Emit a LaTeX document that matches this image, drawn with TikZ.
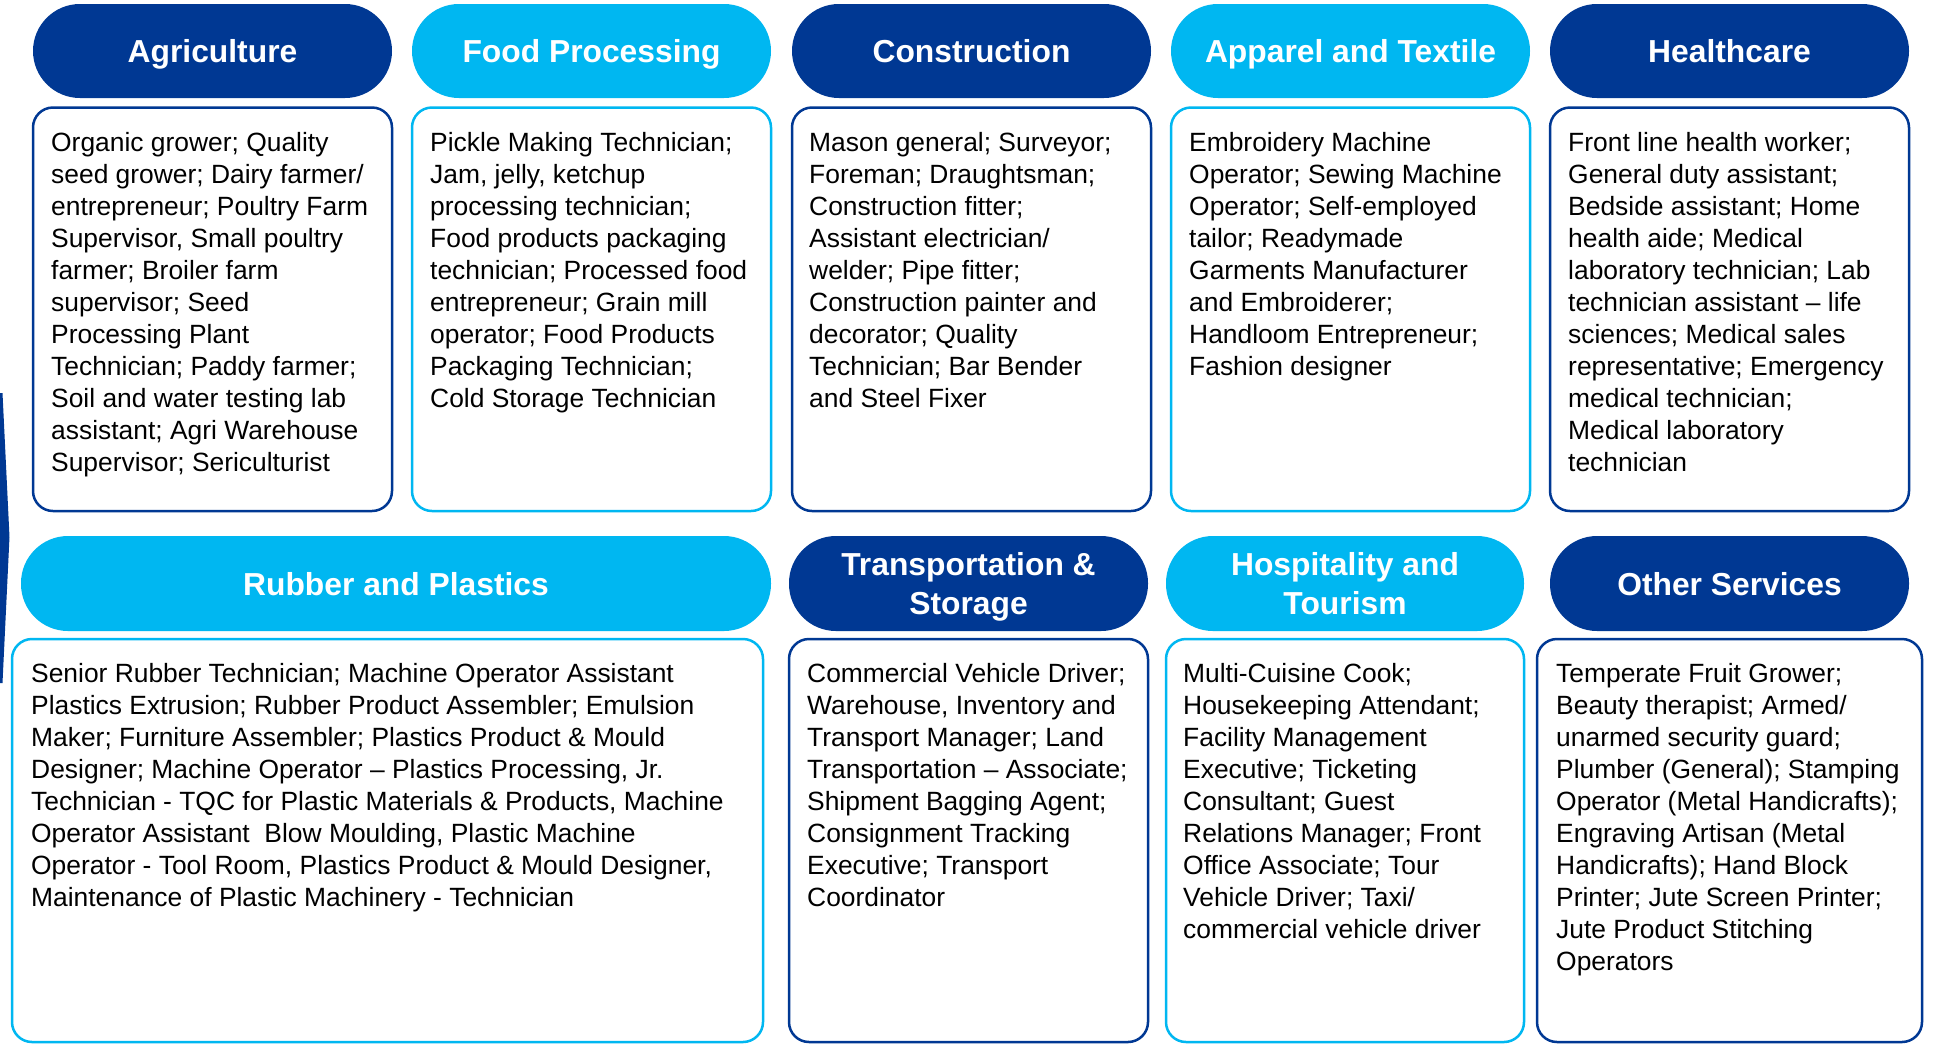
\documentclass[tikz,border=0pt]{standalone}
\usepackage{fontspec}
\setmainfont{Liberation Sans}
\usetikzlibrary{calc}
\definecolor{dk}{RGB}{0,56,147}
\definecolor{lt}{RGB}{0,183,241}
\pgfdeclarelayer{bg}
\pgfsetlayers{bg,main}
\newcommand{\nodepth}[1]{\raisebox{0pt}[\height][0pt]{#1}}
\tikzset{
  hdr/.style={rectangle, rounded corners=47pt, fill=#1, text=white,
    font=\fontsize{31.8}{39.3}\selectfont\bfseries, align=center,
    inner sep=0pt, outer sep=0pt, minimum height=94pt},
  one/.style={text height=23pt, text depth=0pt},
  card/.style={rectangle, rounded corners=20pt, draw=#1, line width=2.5pt,
    fill=white, inner sep=0pt, outer sep=0pt},
  body/.style={anchor=north west, align=left, inner sep=0pt,
    font=\fontsize{26.4}{32}\selectfont, text=black},
}
\begin{document}
\begin{tikzpicture}[x=1pt,y=-1pt]
\useasboundingbox[fill=white] (0,0) rectangle (1934,1045);

% left edge sliver
\fill[dk] (0,393) -- (2.5,393) -- (9.5,537) -- (2.5,683) -- (0,683) -- cycle;

% ---------- Row 1 ----------
\node[hdr=dk, one, minimum width=359pt] (hA) at (212.5,51) {Agriculture};
\node[hdr=lt, one, minimum width=359pt] (hB) at (591.5,51) {Food Processing};
\node[hdr=dk, one, minimum width=359pt] (hC) at (971.5,51) {Construction};
\node[hdr=lt, one, minimum width=359pt] (hD) at (1350.5,51) {Apparel and Textile};
\node[hdr=dk, one, minimum width=359pt] (hE) at (1729.5,51) {Healthcare};

\node[card=dk, minimum width=359pt, minimum height=403.5pt] (bA) at (212.5,309.25) {};
\node[card=lt, minimum width=359pt, minimum height=403.5pt] (bB) at (591.5,309.25) {};
\node[card=dk, minimum width=359pt, minimum height=403.5pt] (bC) at (971.5,309.25) {};
\node[card=lt, minimum width=359pt, minimum height=403.5pt] (bD) at (1350.5,309.25) {};
\node[card=dk, minimum width=359pt, minimum height=403.5pt] (bE) at (1729.5,309.25) {};

% ---------- Row 2 ----------
\node[hdr=lt, one, minimum width=750pt, minimum height=95pt] (hF) at (396,583.5) {Rubber and Plastics};
\node[hdr=dk, minimum width=359pt, minimum height=95pt] (hG) at (968.5,583.5) {Transportation \&\\\nodepth{Storage}};
\node[hdr=lt, minimum width=358pt, minimum height=95pt] (hH) at (1345,583.5) {Hospitality and\\\nodepth{Tourism}};
\node[hdr=dk, one, minimum width=359pt, minimum height=95pt] (hI) at (1729.5,583.5) {Other Services};

\node[card=lt, minimum width=751pt, minimum height=403pt] (bF) at (387.5,840.5) {};
\node[card=dk, minimum width=359pt, minimum height=403pt] (bG) at (968.5,840.5) {};
\node[card=lt, minimum width=358pt, minimum height=403pt] (bH) at (1345,840.5) {};
\node[card=dk, minimum width=385pt, minimum height=403pt] (bI) at (1729.5,840.5) {};

% ---------- Tabs (connectors) ----------
\begin{pgfonlayer}{bg}
\foreach \h/\b/\c/\l/\r in {hA/bA/dk/16/6, hB/bB/lt/16/6, hC/bC/dk/16/6, hD/bD/lt/16/6, hE/bE/dk/16/6,
                            hF/bF/lt/3/0, hG/bG/dk/3/0, hH/bH/lt/3/0, hI/bI/dk/3/0} {
  \fill[\c] ($(\b.north |- \h.center)+(-63.5,0)$) rectangle ($(\b.north)+(63.5,6)$);
  \fill[\c, rounded corners=\r pt] ($(\b.south)+(-63.5,-10)$) rectangle ($(\b.south)+(63.5,\l)$);
}
\end{pgfonlayer}

% ---------- Texts ----------
\node[body] (tA) at ($(bA.north west)+(18,24.3)$) {Organic grower; Quality\\seed grower; Dairy farmer/\\entrepreneur; Poultry Farm\\Supervisor, Small poultry\\farmer; Broiler farm\\supervisor; Seed\\Processing Plant\\Technician; Paddy farmer;\\Soil and water testing lab\\assistant; Agri Warehouse\\Supervisor; Sericulturist};
\node[body] (tB) at ($(bB.north west)+(18,24.3)$) {Pickle Making Technician;\\Jam, jelly, ketchup\\processing technician;\\Food products packaging\\technician; Processed food\\entrepreneur; Grain mill\\operator; Food Products\\Packaging Technician;\\Cold Storage Technician};
\node[body] (tC) at ($(bC.north west)+(17,24.3)$) {Mason general; Surveyor;\\Foreman; Draughtsman;\\Construction fitter;\\Assistant electrician/\\welder; Pipe fitter;\\Construction painter and\\decorator; Quality\\Technician; Bar Bender\\and Steel Fixer};
\node[body] (tD) at ($(bD.north west)+(18,24.3)$) {Embroidery Machine\\Operator; Sewing Machine\\Operator; Self-employed\\tailor; Readymade\\Garments Manufacturer\\and Embroiderer;\\Handloom Entrepreneur;\\Fashion designer};
\node[body] (tE) at ($(bE.north west)+(18,24.3)$) {Front line health worker;\\General duty assistant;\\Bedside assistant; Home\\health aide; Medical\\laboratory technician; Lab\\technician assistant – life\\sciences; Medical sales\\representative; Emergency\\medical technician;\\Medical laboratory\\technician};

\node[body] (tF) at ($(bF.north west)+(19,24.3)$) {Senior Rubber Technician; Machine Operator Assistant\\Plastics Extrusion; Rubber Product Assembler; Emulsion\\Maker; Furniture Assembler; Plastics Product \& Mould\\Designer; Machine Operator – Plastics Processing, Jr.\\Technician - TQC for Plastic Materials \& Products, Machine\\Operator Assistant\ \ Blow Moulding, Plastic Machine\\Operator - Tool Room, Plastics Product \& Mould Designer,\\Maintenance of Plastic Machinery - Technician};
\node[body] (tG) at ($(bG.north west)+(18,24.3)$) {Commercial Vehicle Driver;\\Warehouse, Inventory and\\Transport Manager; Land\\Transportation – Associate;\\Shipment Bagging Agent;\\Consignment Tracking\\Executive; Transport\\Coordinator};
\node[body] (tH) at ($(bH.north west)+(17,24.3)$) {Multi-Cuisine Cook;\\Housekeeping Attendant;\\Facility Management\\Executive; Ticketing\\Consultant; Guest\\Relations Manager; Front\\Office Associate; Tour\\Vehicle Driver; Taxi/\\commercial vehicle driver};
\node[body] (tI) at ($(bI.north west)+(19,24.3)$) {Temperate Fruit Grower;\\Beauty therapist; Armed/\\unarmed security guard;\\Plumber (General); Stamping\\Operator (Metal Handicrafts);\\Engraving Artisan (Metal\\Handicrafts); Hand Block\\Printer; Jute Screen Printer;\\Jute Product Stitching\\Operators};
\end{tikzpicture}
\end{document}
